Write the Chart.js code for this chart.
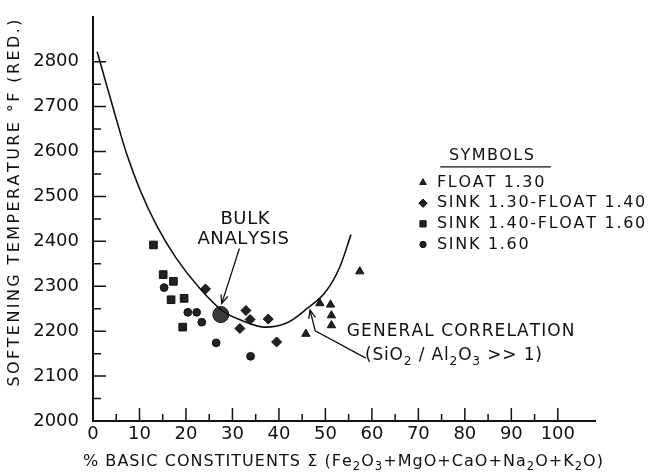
<!DOCTYPE html>
<html><head><meta charset="utf-8">
<script src="https://cdn.jsdelivr.net/npm/chart.js@4"></script>
<style>html,body{margin:0;padding:0;background:#fff}#wrap{width:657px;height:474px}</style>
</head><body><div id="wrap"><canvas id="c" width="657" height="474"></canvas></div>
<script>
// ---- data ----
const float130X = [45.8, 48.8, 51.1, 51.3, 51.3, 57.4];
const float130Y = [2194, 2262, 2259, 2235, 2213, 2333];
const sink130X = [24.2, 31.6, 32.9, 33.8, 37.7, 39.5];
const sink130Y = [2294, 2206, 2246, 2226, 2227, 2176];
const sink140X = [13.0, 15.1, 16.8, 17.3, 19.3, 19.6];
const sink140Y = [2392, 2326, 2270, 2311, 2209, 2273];
const sink160X = [15.3, 20.4, 22.3, 23.4, 26.5, 33.9];
const sink160Y = [2297, 2242, 2242, 2220, 2174, 2144];
const bulkX = [27.5];
const bulkY = [2237];
const curveX = [0.9, 2.9, 5.1, 7.2, 10.1, 13.7, 18.0, 23.0, 28.0, 32.0, 37.0, 42.0, 46.0, 50.0, 53.1, 55.5];
const curveY = [2822, 2749, 2669, 2596, 2515, 2435, 2361, 2295, 2244, 2224, 2209, 2220, 2250, 2287, 2343, 2415];
const xTickLabels = [0, 10, 20, 30, 40, 50, 60, 70, 80, 90, 100];
const yTickLabels = [2000, 2100, 2200, 2300, 2400, 2500, 2600, 2700, 2800];
const seriesLabels = ['FLOAT 1.30', 'SINK 1.30-FLOAT 1.40', 'SINK 1.40-FLOAT 1.60', 'SINK 1.60'];
const legendTitle = 'SYMBOLS';
const bulkText = ['BULK', 'ANALYSIS'];
const corrText = 'GENERAL CORRELATION';
const corrSub = [['(SiO', 0], ['2', 1], [' / Al', 0], ['2', 1], ['O', 0], ['3', 1], [' >> 1)', 0]];
const xTitle = [['% BASIC CONSTITUENTS Σ (Fe', 0], ['2', 1], ['O', 0], ['3', 1], ['+MgO+CaO+Na', 0], ['2', 1], ['O+K', 0], ['2', 1], ['O)', 0]];
const yTitle = [['SOFTENING TEMPERATURE °F (RED.)', 0]];

// ---- layout (data units, not values) ----
const layoutNotes = {
  bulkLine1: {x: 32.7, y: 2448}, bulkLine2: {x: 32.3, y: 2404},
  bulkArrowFrom: {x: 31.5, y: 2384}, bulkArrowTo: {x: 27.7, y: 2262},
  corrText: {x: 54.6, y: 2200}, corrSub: {x: 58.5, y: 2145},
  corrArrow: [{x: 58.7, y: 2140}, {x: 47.8, y: 2201}, {x: 46.7, y: 2247}],
  legSymX: 71.0, legTextX: 74.0, legRows: [2531, 2485, 2439, 2393],
  legTitle: {x: 76.6, y: 2590}, legUnder: {x1: 74.7, x2: 98.5, y: 2566}
};

const INK = '#111';
const FAMILY = '"DejaVu Sans", sans-serif';
const pts = (xs, ys) => xs.map((x, i) => ({x: x, y: ys[i]}));

function setFont(ctx, size) { ctx.font = size + 'px ' + FAMILY; }
function partsWidth(ctx, parts, size, spacing) {
  let w = 0, n = 0;
  for (const [t, sub] of parts) {
    setFont(ctx, sub ? size * 0.72 : size);
    for (const ch of t) { w += ctx.measureText(ch).width; n++; }
  }
  return w + spacing * (n - 1);
}
function countChars(parts) { let n = 0; for (const [t] of parts) n += [...t].length; return n; }
function fitSpacing(ctx, parts, size, target) {
  return (target - partsWidth(ctx, parts, size, 0)) / (countChars(parts) - 1);
}
function drawParts(ctx, parts, x, y, size, spacing, align) {
  const w = partsWidth(ctx, parts, size, spacing);
  let cx = align === 'center' ? x - w / 2 : (align === 'right' ? x - w : x);
  ctx.textBaseline = 'middle'; ctx.textAlign = 'left'; ctx.fillStyle = INK;
  for (const [t, sub] of parts) {
    setFont(ctx, sub ? size * 0.72 : size);
    for (const ch of t) {
      ctx.fillText(ch, cx, sub ? y + size * 0.34 : y);
      cx += ctx.measureText(ch).width + spacing;
    }
  }
}
function arrowHead(ctx, fx, fy, tx, ty, len, ang) {
  const a = Math.atan2(ty - fy, tx - fx);
  ctx.beginPath();
  ctx.moveTo(tx - len * Math.cos(a - ang), ty - len * Math.sin(a - ang));
  ctx.lineTo(tx, ty);
  ctx.lineTo(tx - len * Math.cos(a + ang), ty - len * Math.sin(a + ang));
  ctx.stroke();
}

const markerStyles = [
  {pointStyle: 'triangle', radius: 4.8, legendRadius: 3.8},
  {pointStyle: 'rectRot', radius: 5.0, legendRadius: 4.2},
  {pointStyle: 'rect', radius: 5.4, legendRadius: 4.4},
  {pointStyle: 'circle', radius: 3.9, legendRadius: 3.2}
];

const decor = {
  id: 'decor',
  afterDraw(chart) {
    const ctx = chart.ctx, xs = chart.scales.x, ys = chart.scales.y, ca = chart.chartArea;
    const X = v => xs.getPixelForValue(v), Y = v => ys.getPixelForValue(v);
    ctx.save();
    ctx.strokeStyle = INK; ctx.fillStyle = INK; ctx.lineWidth = 1.5;
    // inside tick marks
    ctx.beginPath();
    for (let v = 2050; v <= 2800; v += 50) {
      const len = v % 100 === 0 ? 13 : 8;
      ctx.moveTo(ca.left, Y(v)); ctx.lineTo(ca.left + len, Y(v));
    }
    for (let v = 5; v <= 100; v += 5) {
      const len = v % 10 === 0 ? 13 : 7;
      ctx.moveTo(X(v), ca.bottom); ctx.lineTo(X(v), ca.bottom - len);
    }
    ctx.stroke();

    // axis titles
    drawParts(ctx, xTitle, 83, 462, 16, fitSpacing(ctx, xTitle, 16, 520), 'left');
    ctx.save();
    ctx.translate(15, 203); ctx.rotate(-Math.PI / 2);
    drawParts(ctx, yTitle, 0, 0, 16, fitSpacing(ctx, yTitle, 16, 367), 'center');
    ctx.restore();

    // BULK ANALYSIS
    const n = layoutNotes;
    drawParts(ctx, [[bulkText[0], 0]], X(n.bulkLine1.x), Y(n.bulkLine1.y), 18, 0.6, 'center');
    drawParts(ctx, [[bulkText[1], 0]], X(n.bulkLine2.x), Y(n.bulkLine2.y), 18, 0.6, 'center');
    ctx.lineWidth = 1.3;
    const bf = [X(n.bulkArrowFrom.x), Y(n.bulkArrowFrom.y)], bt = [X(n.bulkArrowTo.x), Y(n.bulkArrowTo.y)];
    ctx.beginPath(); ctx.moveTo(bf[0], bf[1]); ctx.lineTo(bt[0], bt[1]); ctx.stroke();
    arrowHead(ctx, bf[0], bf[1], bt[0], bt[1], 9, 0.4);

    // GENERAL CORRELATION
    drawParts(ctx, [[corrText, 0]], X(n.corrText.x), Y(n.corrText.y), 17, 1.1, 'left');
    drawParts(ctx, corrSub, X(n.corrSub.x), Y(n.corrSub.y), 17, fitSpacing(ctx, corrSub, 17, 177), 'left');
    const cp = n.corrArrow.map(p => [X(p.x), Y(p.y)]);
    ctx.beginPath(); ctx.moveTo(cp[0][0], cp[0][1]);
    for (let i = 1; i < cp.length; i++) ctx.lineTo(cp[i][0], cp[i][1]);
    ctx.stroke();
    arrowHead(ctx, cp[1][0], cp[1][1], cp[2][0], cp[2][1], 9, 0.4);

    // legend
    drawParts(ctx, [[legendTitle, 0]], X(n.legTitle.x), Y(n.legTitle.y), 16, 1.4, 'left');
    ctx.lineWidth = 1.3;
    ctx.beginPath(); ctx.moveTo(X(n.legUnder.x1), Y(n.legUnder.y)); ctx.lineTo(X(n.legUnder.x2), Y(n.legUnder.y)); ctx.stroke();
    seriesLabels.forEach((lab, i) => {
      const yy = Y(n.legRows[i]);
      const ds = chart.data.datasets[i + 1];
      ctx.fillStyle = ds.backgroundColor; ctx.strokeStyle = ds.borderColor; ctx.lineWidth = 1;
      Chart.helpers.drawPoint(ctx, {pointStyle: markerStyles[i].pointStyle, radius: markerStyles[i].legendRadius, borderWidth: 1, rotation: 0}, X(n.legSymX), yy);
      drawParts(ctx, [[lab, 0]], X(n.legTextX), yy, 16, 1.7, 'left');
    });
    ctx.restore();
  }
};

const datasets = [
  {label: corrText, data: pts(curveX, curveY), showLine: true, borderColor: INK, borderWidth: 1.6,
   pointRadius: 0, cubicInterpolationMode: 'monotone', fill: false},
  {label: seriesLabels[0], data: pts(float130X, float130Y)},
  {label: seriesLabels[1], data: pts(sink130X, sink130Y)},
  {label: seriesLabels[2], data: pts(sink140X, sink140Y)},
  {label: seriesLabels[3], data: pts(sink160X, sink160Y)},
  {label: 'BULK ANALYSIS', data: pts(bulkX, bulkY), pointStyle: 'circle', pointRadius: 8,
   backgroundColor: '#3a3a3a', borderColor: INK, borderWidth: 1}
];
for (let i = 0; i < 4; i++) {
  Object.assign(datasets[i + 1], {pointStyle: markerStyles[i].pointStyle, pointRadius: markerStyles[i].radius,
    backgroundColor: '#222', borderColor: INK, borderWidth: 1, showLine: false});
}

const tickFont = {family: FAMILY, size: 18};
new Chart(document.getElementById('c'), {
  type: 'scatter',
  data: {datasets: datasets},
  options: {
    responsive: false, animation: false, devicePixelRatio: 1,
    layout: {padding: {left: 0, top: 11.5, right: 62, bottom: 0}},
    plugins: {legend: {display: false}, tooltip: {enabled: false}},
    scales: {
      x: {type: 'linear', min: 0, max: 108,
        afterFit(s) { s.height = 53; },
        grid: {display: false}, border: {display: true, color: INK, width: 2},
        ticks: {stepSize: 10, includeBounds: false, autoSkip: false, maxRotation: 0, padding: -5, color: INK, font: tickFont,
          callback: v => xTickLabels.includes(v) ? String(v) : ''}},
      y: {type: 'linear', min: 2000, max: 2900,
        afterFit(s) { s.width = 93; },
        grid: {display: false}, border: {display: true, color: INK, width: 2},
        ticks: {stepSize: 100, autoSkip: false, padding: 6, color: INK, font: tickFont,
          callback: v => yTickLabels.includes(v) ? String(v) : ''}}
    }
  },
  plugins: [decor]
});
</script>
</body></html>
